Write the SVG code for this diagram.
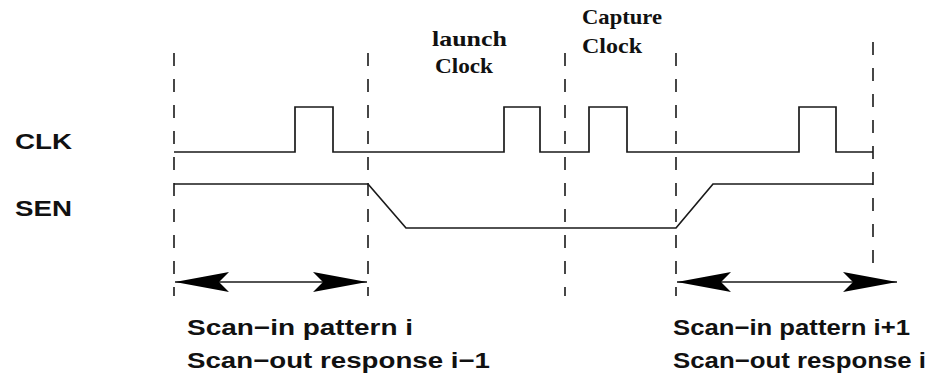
<svg xmlns="http://www.w3.org/2000/svg" width="930" height="376" viewBox="0 0 930 376">
<style>
  .wave{fill:none;stroke:#1a1a1a;stroke-width:1.7;stroke-linejoin:miter}
  .dash{fill:none;stroke:#1a1a1a;stroke-width:1.6;stroke-dasharray:13 13}
  .sig{font-family:'Liberation Sans',Arial,sans-serif;font-weight:bold;font-size:22px;fill:#111}
  .lbl{font-family:'Liberation Serif','DejaVu Serif',serif;font-weight:bold;font-size:21px;fill:#111}
  .cap{font-family:'Liberation Sans',Arial,sans-serif;font-weight:bold;font-size:22px;fill:#111}
  .arr{fill:none;stroke:#1a1a1a;stroke-width:1.6}
</style>
<defs>
  <marker id="head" markerUnits="userSpaceOnUse" viewBox="-56 -12 58 24" markerWidth="58" markerHeight="24" refX="0" refY="0" orient="auto-start-reverse">
    <path d="M0,0 L-54,-10 L-44,0 L-54,10 Z" fill="#000"/>
  </marker>
</defs>
<rect width="930" height="376" fill="#fff"/>

<g id="guides">
  <line class="dash" x1="174" y1="53" x2="174" y2="296"/>
  <line class="dash" x1="368" y1="53" x2="368" y2="296"/>
  <line class="dash" x1="565" y1="53" x2="565" y2="296"/>
  <line class="dash" x1="676" y1="53" x2="676" y2="296"/>
  <line class="dash" x1="873" y1="42" x2="873" y2="266"/>
</g>

<g id="clk">
  <text class="sig" x="15" y="149" textLength="57" lengthAdjust="spacingAndGlyphs">CLK</text>
  <path class="wave" d="M174,152 H295 V107 H333 V152 H504 V107 H540 V152 H589 V107 H627 V152 H799 V107 H836 V152 H873"/>
</g>

<g id="sen">
  <text class="sig" x="15" y="216" textLength="57" lengthAdjust="spacingAndGlyphs">SEN</text>
  <path class="wave" d="M174,184 H368 L406,228 H676 L713,184 H873"/>
</g>

<g id="launch">
  <text class="lbl" font-family="Liberation Serif, DejaVu Serif, serif" x="432" y="46" textLength="75" lengthAdjust="spacingAndGlyphs">launch</text>
  <text class="lbl" font-family="Liberation Serif, DejaVu Serif, serif" x="435" y="73" textLength="58" lengthAdjust="spacingAndGlyphs">Clock</text>
</g>

<g id="capture">
  <text class="lbl" font-family="Liberation Serif, DejaVu Serif, serif" x="582" y="24" textLength="80" lengthAdjust="spacingAndGlyphs">Capture</text>
  <text class="lbl" font-family="Liberation Serif, DejaVu Serif, serif" x="582" y="53" textLength="60" lengthAdjust="spacingAndGlyphs">Clock</text>
</g>

<g id="connectors">
  <line class="arr" x1="175" y1="282" x2="367" y2="282" marker-start="url(#head)" marker-end="url(#head)"/>
  <line class="arr" x1="677" y1="282" x2="897" y2="282" marker-start="url(#head)" marker-end="url(#head)"/>
</g>

<g id="window-i">
  <text class="cap" x="187" y="335" textLength="226" lengthAdjust="spacingAndGlyphs">Scan−in pattern i</text>
  <text class="cap" x="187" y="368" textLength="303" lengthAdjust="spacingAndGlyphs">Scan−out response i−1</text>
</g>

<g id="window-i1">
  <text class="cap" x="673" y="335" textLength="237" lengthAdjust="spacingAndGlyphs">Scan−in pattern i+1</text>
  <text class="cap" x="673" y="368" textLength="253" lengthAdjust="spacingAndGlyphs">Scan−out response i</text>
</g>
</svg>
